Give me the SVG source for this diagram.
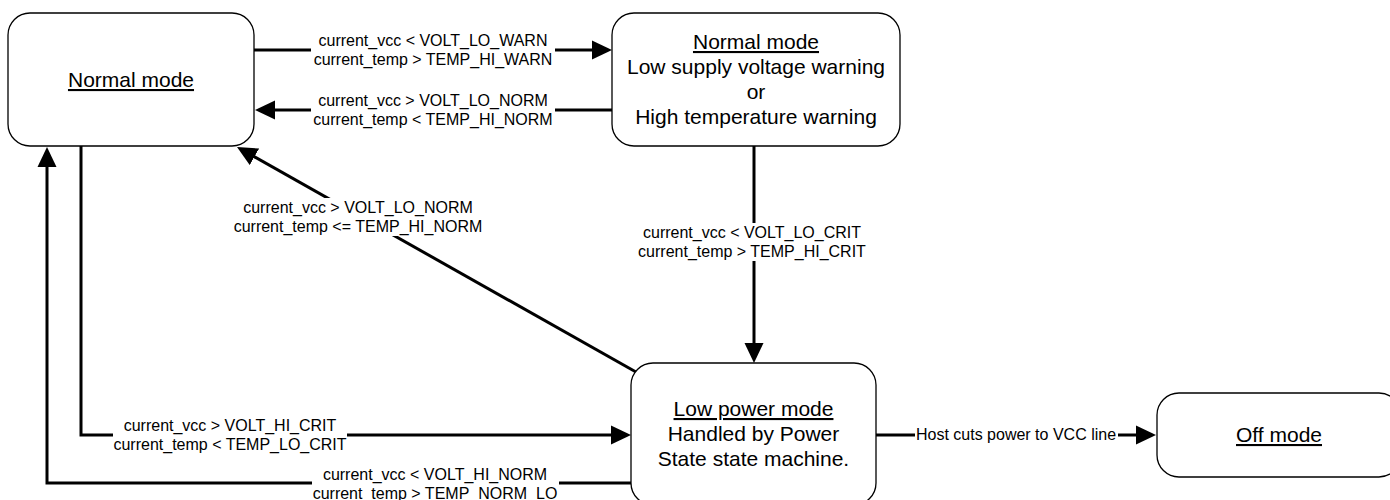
<svg xmlns="http://www.w3.org/2000/svg" width="1390" height="500" viewBox="0 0 1390 500">
<defs>
<marker id="arr" markerUnits="userSpaceOnUse" markerWidth="20" markerHeight="20" viewBox="0 0 20 20" refX="10" refY="10" orient="auto">
<path d="M0,0.5 L20,10 L0,19.5 z" fill="#000"/>
</marker>
</defs>
<style>
.node rect{fill:#fff;stroke:#000;stroke-width:1.3}
.nt{font-family:"Liberation Sans",Arial,sans-serif;font-size:21px;fill:#000;text-anchor:middle}
.u{text-decoration:underline}
.edge{fill:none;stroke:#000;stroke-width:3;marker-end:url(#arr)}
.lb{fill:#fff;stroke:none}
.lt{font-family:"Liberation Sans",Arial,sans-serif;font-size:16px;fill:#000;text-anchor:middle}
</style>
<rect width="1390" height="500" fill="#fff"/>
<g id="connectors">
<path class="edge" d="M254,50 L602,50"/>
<path class="edge" d="M612,110 L265,110"/>
<path class="edge" d="M636,372 L245.7,151.9"/>
<path class="edge" d="M754,146 L754,353"/>
<path class="edge" d="M81,146 L81,435 L621,435"/>
<path class="edge" d="M631,483 L47,483 L47,157"/>
<path class="edge" d="M876,435 L1146,435"/>
<rect class="lb" x="311" y="31" width="244" height="38"/>
<text class="lt" x="433" y="46">current_vcc &lt; VOLT_LO_WARN</text>
<text class="lt" x="433" y="65">current_temp &gt; TEMP_HI_WARN</text>
<rect class="lb" x="311" y="91" width="244" height="38"/>
<text class="lt" x="433" y="106">current_vcc &gt; VOLT_LO_NORM</text>
<text class="lt" x="433" y="125">current_temp &lt; TEMP_HI_NORM</text>
<rect class="lb" x="232" y="198" width="252" height="38"/>
<text class="lt" x="358" y="213">current_vcc &gt; VOLT_LO_NORM</text>
<text class="lt" x="358" y="232">current_temp &lt;= TEMP_HI_NORM</text>
<rect class="lb" x="638" y="223" width="228" height="38"/>
<text class="lt" x="752" y="238">current_vcc &lt; VOLT_LO_CRIT</text>
<text class="lt" x="752" y="257">current_temp &gt; TEMP_HI_CRIT</text>
<rect class="lb" x="113" y="416" width="234" height="38"/>
<text class="lt" x="230" y="431">current_vcc &gt; VOLT_HI_CRIT</text>
<text class="lt" x="230" y="450">current_temp &lt; TEMP_LO_CRIT</text>
<rect class="lb" x="312" y="464" width="247" height="38"/>
<text class="lt" x="435" y="480">current_vcc &lt; VOLT_HI_NORM</text>
<text class="lt" x="435" y="499">current_temp &gt; TEMP_NORM_LO</text>
<rect class="lb" x="915" y="426" width="203" height="18"/>
<text class="lt" x="1016" y="440">Host cuts power to VCC line</text>
</g>
<g id="normal" class="node">
<rect x="8" y="13" width="246" height="133" rx="22" ry="22"/>
<text class="nt u" x="131" y="87">Normal mode</text>
</g>
<g id="warning" class="node">
<rect x="612" y="13" width="288" height="133" rx="22" ry="22"/>
<text class="nt u" x="756" y="49">Normal mode</text>
<text class="nt" x="756" y="74">Low supply voltage warning</text>
<text class="nt" x="756" y="99">or</text>
<text class="nt" x="756" y="124">High temperature warning</text>
</g>
<g id="lowpower" class="node">
<rect x="631" y="363" width="245" height="142" rx="22" ry="22"/>
<text class="nt u" x="753.5" y="416">Low power mode</text>
<text class="nt" x="753.5" y="441">Handled by Power</text>
<text class="nt" x="753.5" y="466">State state machine.</text>
</g>
<g id="off" class="node">
<rect x="1157" y="393" width="244" height="84" rx="22" ry="22"/>
<text class="nt u" x="1279" y="442">Off mode</text>
</g>
</svg>
